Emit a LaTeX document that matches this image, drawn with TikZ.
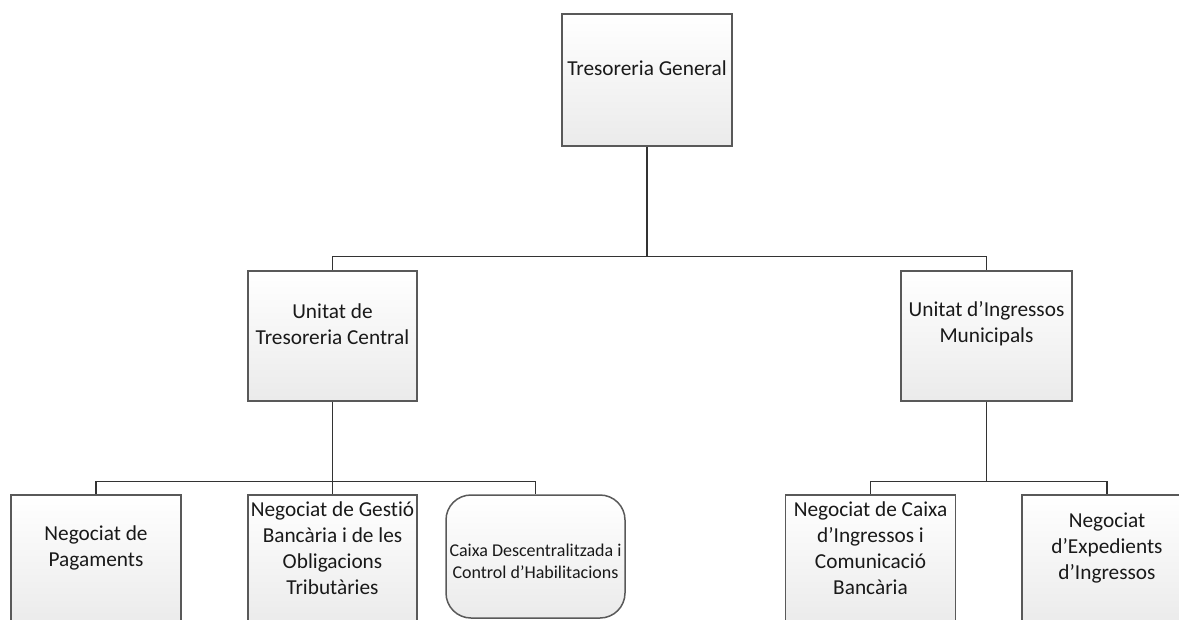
\documentclass[tikz,border=0pt]{standalone}
\usepackage{fontspec}
\setmainfont[Ligatures={NoCommon}]{Carlito}

\tikzset{
  unit/.style={draw=black!65, line width=1.5pt, top color=white, bottom color=black!8,
    minimum width=170pt, minimum height=130pt, inner sep=0pt},
  caption/.style={align=center, text=black!90, inner sep=0pt,
    font=\fontsize{21.3}{26}\selectfont},
  small caption/.style={caption, font=\fontsize{18}{22}\selectfont},
  link/.style={draw=black!80, line width=1.2pt},
  ortho/.style={to path={(\tikztostart.south) -- ++(0pt,-#1) -| (\tikztotarget.north)}}
}

\begin{document}
\begin{tikzpicture}[x=1pt, y=-1pt]
  \clip (0,0) rectangle (1179,619);

  \node[unit, minimum height=132pt] (tg) at (647,80) {};
  \node[caption] (tg-t) at ([yshift=12pt]tg.center) {Tresoreria General};

  \node[unit, minimum width=169pt] (utc) at (332.5,336) {};
  \node[caption] (utc-t) at ([yshift=12pt]utc.center) {Unitat de\\Tresoreria Central};
  \node[unit, minimum width=171pt] (uim) at (986.5,336) {};
  \node[caption] (uim-t) at ([yshift=12pt]uim.center) {Unitat d’Ingressos\\Municipals};

  \node[unit] (pag) at (96,560) {};
  \node[caption] (pag-t) at ([yshift=12pt]pag.center) {Negociat de\\Pagaments};
  \node[unit, minimum width=169pt] (gba) at (332.5,560) {};
  \node[caption] (gba-t) at ([yshift=12pt]gba.center) {Negociat de Gestió\\Bancària i de les\\Obligacions\\Tributàries};
  \node[unit, rounded corners=25pt, minimum width=179pt, minimum height=123pt] (cdh) at (535.5,556.5) {};
  \node[small caption] (cdh-t) at ([yshift=-5pt]cdh.center) {Caixa Descentralitzada i\\Control d’Habilitacions};

  \node[unit] (nci) at (870.5,560) {};
  \node[caption] (nci-t) at ([yshift=12pt]nci.center) {Negociat de Caixa\\d’Ingressos i\\Comunicació\\Bancària};
  \node[unit] (nei) at (1107,560) {};
  \node[caption] (nei-t) at ([yshift=12pt]nei.center) {Negociat\\d’Expedients\\d’Ingressos};

  \path[link]
  (tg) edge[ortho=110pt] (utc)
  (tg) edge[ortho=110pt] (uim)
  ;
  \path[link]
  (utc) edge[ortho=80pt] (pag)
  (utc) edge[ortho=80pt] (gba)
  (utc) edge[ortho=80pt] (cdh)
  (uim) edge[ortho=80pt] (nci)
  (uim) edge[ortho=80pt] (nei)
  ;
\end{tikzpicture}
\end{document}
